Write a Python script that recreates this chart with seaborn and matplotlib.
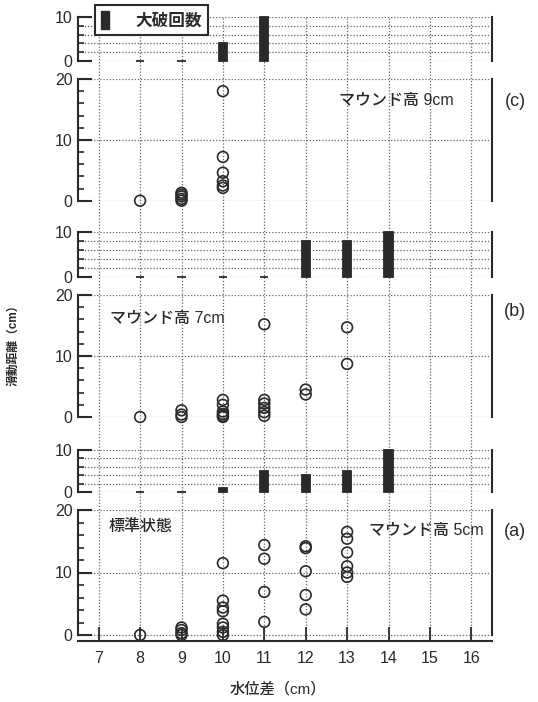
import numpy as np
import pandas as pd
import seaborn as sns
import matplotlib.pyplot as plt
import matplotlib.patches as mpatches

# ---- data ----
water_diff = [8, 9, 10, 11, 12, 13, 14]

# number of heavy damage (大破回数) per water level difference (nan = not tested)
damage_c = [0, 0, 4, 10, np.nan, np.nan, np.nan]
damage_b = [0, 0, 0, 0, 8, 8, 10]
damage_a = [0, 0, 1, 5, 4, 5, 10]

# sliding distance (cm), mound height 9cm
slide_c_x = [8, 9, 9, 9, 9, 9, 10, 10, 10, 10, 10, 10]
slide_c_y = [0, 0, 0.3, 0.7, 1.0, 1.3, 18, 7.2, 4.6, 3.2, 2.5, 2.1]

# mound height 7cm
slide_b_x = [8, 9, 9, 9, 10, 10, 10, 10, 10, 10,
             11, 11, 11, 11, 11, 11, 12, 12, 13, 13]
slide_b_y = [0, 0, 0.4, 1.1, 2.8, 2.0, 0.9, 0.5, 0.2, 0,
             15.2, 2.8, 2.2, 1.5, 0.8, 0.2, 4.5, 3.7, 14.7, 8.7]

# mound height 5cm (standard)
slide_a_x = [8, 9, 9, 9, 9, 10, 10, 10, 10, 10, 10, 10, 10,
             11, 11, 11, 11, 12, 12, 12, 12, 12, 13, 13, 13, 13, 13, 13]
slide_a_y = [0, 0, 0.3, 0.8, 1.2, 11.5, 5.5, 4.4, 3.8, 1.8, 1.2, 0.5, 0,
             14.4, 12.2, 6.9, 2.1, 14.2, 13.9, 10.2, 6.4, 4.1,
             16.5, 15.4, 13.2, 11.0, 10.0, 9.3]

x_ticks = list(range(7, 17))

sns.set_theme(style="white")
plt.rcParams['font.family'] = ['Liberation Sans', 'Noto Sans CJK JP', 'DejaVu Sans']

W, H = 538, 702
fig = plt.figure(figsize=(W / 100, H / 100), dpi=100)

INK = '#2a2a2a'
GRID = '#666666'
DOT = (0, (1, 1.5))


def rect(top, bot, left=78, right=492):
    return [left / W, 1 - bot / H, (right - left) / W, (bot - top) / H]


# background axes for the vertical dotted grid running through all panels
bg = fig.add_axes(rect(17, 641))
bg.set_xlim(6.5, 16.5)
bg.set_ylim(0, 1)
bg.axis('off')
for t in x_ticks:
    bg.axvline(t, color=GRID, lw=0.9, ls=DOT)


def style_axes(ax, ymax, minor_grid):
    ax.set_facecolor('none')
    ax.set_xlim(6.5, 16.5)
    for s in ['top', 'bottom']:
        ax.spines[s].set_visible(False)
    for s in ['left', 'right']:
        ax.spines[s].set_color(INK)
        ax.spines[s].set_linewidth(1.5)
    ax.set_yticks(np.arange(0, ymax + 1, 10))
    ax.set_yticks(np.arange(2, ymax, 2), minor=True)
    ax.tick_params(axis='y', which='major', direction='in', length=10, width=1.5,
                   pad=4, labelsize=11.5, colors=INK, left=True, right=False)
    ax.tick_params(axis='y', which='minor', direction='in', length=4, width=1.2,
                   colors=INK, left=True, right=False)
    ax.tick_params(axis='x', bottom=False, labelbottom=False)
    ax.grid(False)
    ax.grid(axis='y', which='both' if minor_grid else 'major',
            color=GRID, lw=0.9, ls=DOT)
    ax.set_xlabel('')
    ax.set_ylabel('')


def bar_panel(top, bot, values):
    ax = fig.add_axes(rect(top, bot))
    df = pd.DataFrame({'x': water_diff, 'n': values}).dropna()
    sns.barplot(data=df, x='x', y='n', native_scale=True, width=0.2,
                color=INK, edgecolor=INK, linewidth=1.3, errorbar=None,
                saturation=1, ax=ax)
    for p in ax.patches:
        p.set_clip_on(False)
    ax.set_ylim(0, 10)
    style_axes(ax, 10, True)
    return ax


def scatter_panel(top, bot, xs, ys, ylo=0):
    ax = fig.add_axes(rect(top, bot))
    df = pd.DataFrame({'x': xs, 'y': ys})
    sns.scatterplot(data=df, x='x', y='y', marker='o', s=60,
                    facecolors='none', edgecolor=INK, linewidth=1.2,
                    clip_on=False, ax=ax)
    ax.set_ylim(ylo, 20)
    style_axes(ax, 20, False)
    return ax


ax1 = bar_panel(17, 61, damage_c)
ax2 = scatter_panel(79, 200.7, slide_c_x, slide_c_y)
ax3 = bar_panel(232, 277, damage_b)
ax4 = scatter_panel(295, 417, slide_b_x, slide_b_y)
ax5 = bar_panel(450, 492, damage_a)
ax6 = scatter_panel(510, 641, slide_a_x, slide_a_y, ylo=-0.96)

# bottom axis
ax6.spines['left'].set_bounds(0, 20)
ax6.spines['right'].set_bounds(0, 20)
ax6.spines['bottom'].set_visible(True)
ax6.spines['bottom'].set_color(INK)
ax6.spines['bottom'].set_linewidth(1.5)
ax6.set_xticks(x_ticks)
ax6.tick_params(axis='x', bottom=True, labelbottom=True, direction='in',
                length=10, width=1.3, pad=7, labelsize=11.5, colors=INK)

# legend
handle = mpatches.Patch(facecolor=INK, edgecolor=INK, label='大破回数')
leg = fig.legend(handles=[handle], loc='upper left',
                 bbox_to_anchor=(95 / W, 1 - 5 / H), borderaxespad=0,
                 handlelength=0.5, handleheight=1.3, handletextpad=1.6,
                 borderpad=0.35, fancybox=False, framealpha=1,
                 prop={'size': 12, 'weight': 'bold'})
leg.get_frame().set_edgecolor(INK)
leg.get_frame().set_linewidth(1.5)
for txt in leg.get_texts():
    txt.set_color(INK)

# annotations
ann = dict(fontsize=11.5, color=INK, ha='center', va='center', weight='medium')
fig.text(396 / W, 1 - 100 / H, 'マウンド高 9cm', **ann)
fig.text(167 / W, 1 - 318 / H, 'マウンド高 7cm', **ann)
fig.text(141 / W, 1 - 527 / H, '標準状態', **ann)
fig.text(426 / W, 1 - 530 / H, 'マウンド高 5cm', **ann)

for lab, y in [('(c)', 102), ('(b)', 312), ('(a)', 532)]:
    fig.text(515 / W, 1 - y / H, lab, fontsize=13, color=INK,
             ha='center', va='center')

fig.text(278 / W, 1 - 689 / H, '水位差（cm）', fontsize=11, color=INK,
         weight='medium', ha='center', va='center')
fig.text(13 / W, 1 - 342 / H, '滑動距離（cm）', fontsize=8.5, color=INK,
         weight='bold', rotation=90, ha='center', va='center')

fig.savefig('out.png', dpi=100, facecolor='white')
